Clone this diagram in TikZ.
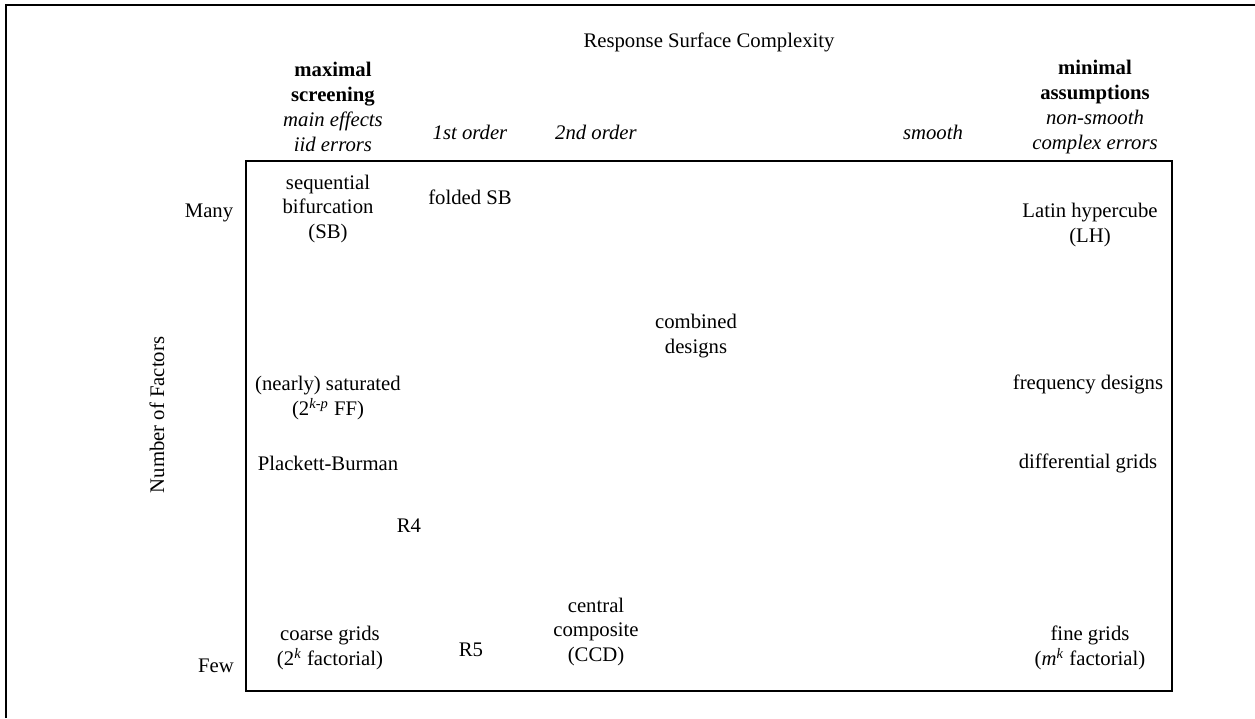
\documentclass[tikz,border=0pt]{standalone}
\usepackage{fontspec}
\setmainfont{Liberation Serif}

\tikzset{
    cell/.style={align=center, inner sep=0pt, font=\fontsize{10.4}{12.5}\selectfont},
    frame/.style={line width=1bp},
    grid box/.style={line width=0.6bp}
}

\begin{document}
\begin{tikzpicture}[x=0.5bp, y=-0.5bp]
                            \useasboundingbox (0,0) rectangle (1255,718);
                            \draw[frame] (6,718) -- (6,5) -- (1255,5);
                            \draw[grid box] (246,161) rectangle (1172,691);

                            \node[cell] (title) at (709,42) {Response Surface Complexity};
                            \node[cell] (maxscr) at (333,107) {\textbf{maximal}\\\textbf{screening}\\\textit{main effects}\\\textit{iid errors}};
                            \node[cell] (first) at (470,132) {\textit{1st order}};
                            \node[cell] (second) at (596,132) {\textit{2nd order}};
                            \node[cell] (smooth) at (933,132) {\textit{smooth}};
                            \node[cell] (minass) at (1095,107) {\textbf{minimal}\\\textbf{assumptions}\\\textit{non-smooth}\\\textit{complex errors}};

                            \node[cell, rotate=90] (factors) at (157,415) {Number of Factors};
                            \node[cell] (many) at (209,213) {Many};
                            \node[cell] (few) at (216,666) {Few};

                            \node[cell] (sb) at (328,209) {sequential\\bifurcation\\(SB)};
                            \node[cell] (folded) at (470,197) {folded SB};
                            \node[cell] (lh) at (1090,225) {Latin hypercube\\(LH)};
                            \node[cell] (combined) at (696,336) {combined\\designs};
                            \node[cell] (saturated) at (328,398) {(nearly) saturated\\(2\textsuperscript{\textit{k-p}} FF)};
                            \node[cell] (freq) at (1088,384) {frequency designs};
                            \node[cell] (pb) at (328,463) {Plackett-Burman};
                            \node[cell] (diffgrid) at (1088,463) {differential grids};
                            \node[cell] (rfour) at (409,526) {R4};
                            \node[cell] (coarse) at (330,648) {coarse grids\\(2\textsuperscript{\textit{k}} factorial)};
                            \node[cell] (rfive) at (471,650) {R5};
                            \node[cell] (ccd) at (596,632) {central\\composite\\(CCD)};
                            \node[cell] (fine) at (1090,648) {fine grids\\(\textit{m}\textsuperscript{\textit{k}} factorial)};
                        \end{tikzpicture}
\end{document}
